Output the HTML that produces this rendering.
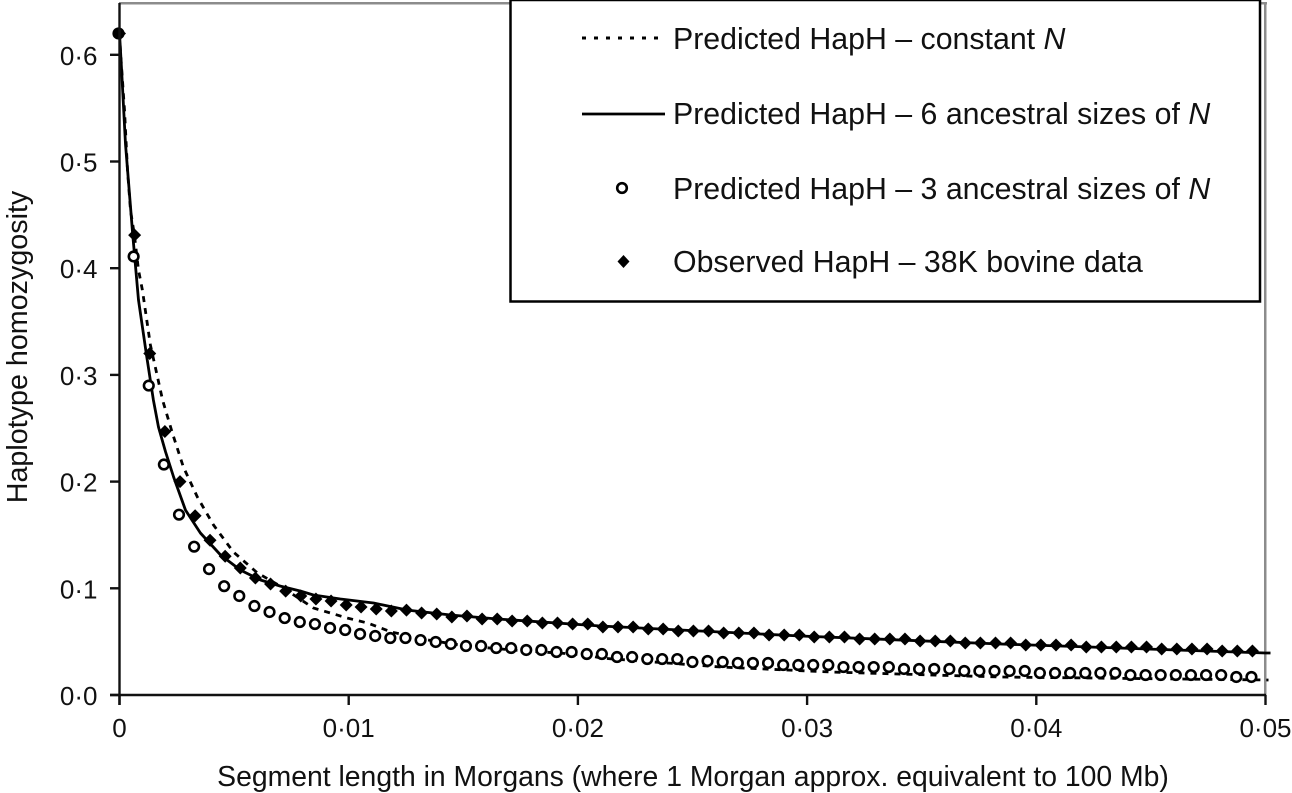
<!DOCTYPE html>
<html>
<head>
<meta charset="utf-8">
<style>
html,body{margin:0;padding:0;background:#fff;}
svg{display:block;}
text{font-family:"Liberation Sans",Arial,sans-serif;fill:#111;}
</style>
</head>
<body>
<svg id="chart" xmlns="http://www.w3.org/2000/svg" width="1292" height="793" viewBox="0 0 1292 793">
  <rect x="0" y="0" width="1292" height="793" fill="#fff"/>
  <rect x="119" y="2" width="1148" height="2.5" fill="#8c8c8c"/>
  <rect x="1264" y="2" width="2.5" height="693" fill="#8c8c8c"/>
  <g id="series"></g>
  <g id="axes"></g>
  <text x="693" y="786" font-size="28.35" text-anchor="middle">Segment length in Morgans (where 1 Morgan approx. equivalent to 100 Mb)</text>
  <text transform="translate(27 347) rotate(-90)" font-size="28.7" text-anchor="middle">Haplotype homozygosity</text>
  <g>
    <rect x="510.5" y="0" width="749.5" height="301.5" fill="#fff" stroke="#000" stroke-width="2.5"/>
    <line x1="582" y1="38" x2="662" y2="38" stroke="#000" stroke-width="3" stroke-dasharray="4 8"/>
    <text x="673" y="49" font-size="30.3">Predicted HapH – constant <tspan font-style="italic">N</tspan></text>
    <line x1="582" y1="114" x2="665" y2="114" stroke="#000" stroke-width="2.8"/>
    <text x="673" y="124" font-size="30.3">Predicted HapH – 6 ancestral sizes of <tspan font-style="italic">N</tspan></text>
    <circle cx="622" cy="188" r="4.8" fill="#fff" stroke="#000" stroke-width="2.6"/>
    <text x="673" y="199" font-size="30.3">Predicted HapH – 3 ancestral sizes of <tspan font-style="italic">N</tspan></text>
    <path d="M623.5 255 L629.5 261.5 L623.5 268 L617.5 261.5 Z" fill="#000"/>
    <text x="673" y="272" font-size="30.3">Observed HapH – 38K bovine data</text>
  </g>
</svg>
<script>
const xTickValues = [0, 0.01, 0.02, 0.03, 0.04, 0.05];
const xTickLabels = ['0', '0·01', '0·02', '0·03', '0·04', '0·05'];
const yTickValues = [0, 0.1, 0.2, 0.3, 0.4, 0.5, 0.6];
const yTickLabels = ['0·0', '0·1', '0·2', '0·3', '0·4', '0·5', '0·6'];

const segmentLengths = [0,.00066,.00132,.00198,.00264,.0033,.00395,.00461,.00527,.00593,.00659,.00725,.00791,.00857,.00923,.00989,.01054,.0112,.01186,.01252,.01318,.01384,.0145,.01516,.01582,.01648,.01713,.01779,.01845,.01911,.01977,.02043,.02109,.02175,.02241,.02307,.02372,.02438,.02504,.0257,.02636,.02702,.02768,.02834,.029,.02966,.03031,.03097,.03163,.03229,.03295,.03361,.03427,.03493,.03559,.03625,.0369,.03756,.03822,.03888,.03954,.0402,.04086,.04152,.04218,.04284,.04349,.04415,.04481,.04547,.04613,.04679,.04745,.04811,.04877,.04943];

const observedHapH = [.62,.431,.32,.247,.2,.168,.145,.13,.119,.1096,.104,.0974,.0928,.09,.0881,.0843,.0825,.0806,.0787,.0796,.0768,.0759,.0731,.074,.0712,.0712,.0693,.0693,.0675,.0675,.0665,.0665,.0637,.0637,.0637,.0618,.0618,.06,.06,.06,.0581,.0581,.0581,.0562,.0562,.0562,.0544,.0544,.0544,.0525,.0525,.0525,.0525,.0506,.0506,.0506,.0487,.0487,.0487,.0487,.0469,.0469,.0469,.0469,.045,.045,.045,.045,.045,.0431,.0431,.0431,.0431,.0412,.0412,.0412];

const threeSizesHapH = [.62,.411,.29,.216,.169,.139,.118,.102,.0928,.0834,.0778,.0721,.0684,.0665,.0628,.0609,.0572,.0553,.0534,.0534,.0515,.0497,.0478,.0459,.0459,.044,.044,.0422,.0422,.0403,.0403,.0384,.0384,.0356,.0356,.0337,.0337,.0337,.0309,.0319,.0309,.03,.03,.03,.0281,.0281,.0281,.0281,.0262,.0262,.0262,.0262,.0244,.0244,.0244,.0244,.0225,.0225,.0225,.0225,.0225,.0206,.0206,.0206,.0206,.0206,.0206,.0187,.0187,.0187,.0187,.0187,.0187,.0187,.0169,.0169];

const sixSizesLengths = [0,.00009,.00026,.00057,.00083,.00118,.00148,.0017,.00201,.00236,.00288,.00353,.00441,.00528,.00615,.00702,.0079,.00846,.00964,.01108,.01257,.01444,.01649,.02099,.02971,.03844,.05,.05022];
const sixSizesHapH = [.62,.5856,.5163,.4329,.3701,.3186,.2764,.2511,.2277,.2043,.1733,.1518,.1312,.1171,.1078,.1021,.0974,.0937,.09,.0862,.0796,.075,.0712,.0647,.0553,.0478,.0394,.0394];

const constantNLengths = [0,.00004,.00022,.00035,.00048,.00065,.00083,.001,.00135,.00188,.00231,.00279,.0034,.0041,.00497,.00602,.00702,.00846,.00995,.01082,.01187,.01318,.01512,.01717,.02043,.02099,.02622,.03102,.03844,.05013];
const constantNHapH = [.62,.6044,.5481,.4919,.4544,.431,.3982,.3795,.328,.2764,.2455,.2136,.1855,.1593,.134,.1143,.1021,.0815,.0721,.0675,.059,.0525,.0459,.0422,.0375,.0347,.0262,.0216,.0169,.0141];

const NS = 'http://www.w3.org/2000/svg';
const xScale = v => 119.5 + v * 22920;
const yScale = v => 695 - v * 1067;
const seriesLayer = document.getElementById('series');
const axesLayer = document.getElementById('axes');

function make(tag, parent, attrs) {
  const el = document.createElementNS(NS, tag);
  for (const k in attrs) el.setAttribute(k, attrs[k]);
  parent.appendChild(el);
  return el;
}
function pointsOf(xs, ys) {
  return xs.map((x, i) => xScale(x).toFixed(1) + ',' + yScale(ys[i]).toFixed(1)).join(' ');
}

const constantLine = make('polyline', seriesLayer, {points: pointsOf(constantNLengths, constantNHapH), fill: 'none', stroke: '#000', 'stroke-width': 2.8, 'stroke-dasharray': '6 6'});



const sixLine = make('polyline', seriesLayer, {points: pointsOf(sixSizesLengths, sixSizesHapH), fill: 'none', stroke: '#000', 'stroke-width': 2.8, 'stroke-linejoin': 'round'});



segmentLengths.forEach((x, i) => {
  const c = make('circle', seriesLayer, {cx: xScale(x) - 1, cy: yScale(threeSizesHapH[i]), r: 4.8, fill: '#fff', stroke: '#000', 'stroke-width': 2.6});
  
  
});
segmentLengths.forEach((x, i) => {
  const px = xScale(x), py = yScale(observedHapH[i]);
  const d = make('path', seriesLayer, {d: `M${px} ${py - 6.5} L${px + 6.5} ${py} L${px} ${py + 6.5} L${px - 6.5} ${py} Z`, fill: '#000'});
  
  
});

const yAxisLine = make('line', axesLayer, {x1: 119.5, y1: 3, x2: 119.5, y2: 705, stroke: '#111', 'stroke-width': 2.4});


const xAxisLine = make('line', axesLayer, {x1: 110, y1: 695, x2: 1266, y2: 695, stroke: '#111', 'stroke-width': 2.4});



yTickValues.forEach((v, i) => {
  const y = yScale(v);
  const t = make('line', axesLayer, {x1: 110, y1: y, x2: 119, y2: y, stroke: '#111', 'stroke-width': 2.4});
  
  
  const l = make('text', axesLayer, {x: 97.5, y: y + 10, 'font-size': 26, 'text-anchor': 'end'});
  l.textContent = yTickLabels[i];
  
  
});
xTickValues.forEach((v, i) => {
  const x = xScale(v);
  const t = make('line', axesLayer, {x1: x, y1: 695, x2: x, y2: 705, stroke: '#111', 'stroke-width': 2.4});
  
  
  const l = make('text', axesLayer, {x: x, y: 737, 'font-size': 26, 'text-anchor': 'middle'});
  l.textContent = xTickLabels[i];
  
  
});
</script>
</body>
</html>
